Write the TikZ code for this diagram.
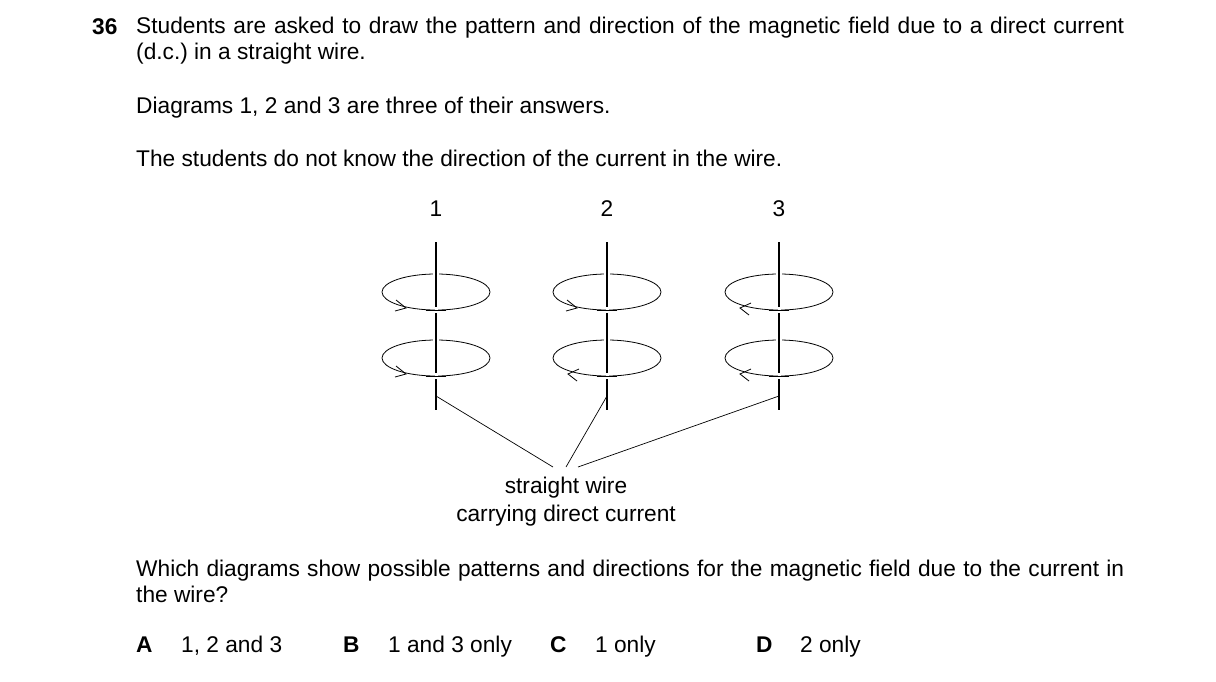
\documentclass[tikz,border=0pt]{standalone}
\usepackage{fontspec}
\setmainfont{Liberation Sans}
\begin{document}
\begin{tikzpicture}[x=1pt,y=-1pt,
  txt/.style={inner sep=0pt,font=\fontsize{22.7}{26}\selectfont},
  bld/.style={txt,font=\fontsize{22.7}{26}\selectfont\bfseries},
  par/.style={txt,text width=988pt,align=justify,anchor=north west},
  wire/.style={line width=1.6pt},
  loop/.style={line width=0.8pt},
  lead/.style={line width=0.7pt},
  hd/.style={line width=0.8pt}]
\useasboundingbox (0,0) rectangle (1216,681);
\node[bld,anchor=base west] (q) at (92,34) {36};
\node[par] (p1) at (136,17) {Students are asked to draw the pattern and direction of the magnetic field due to a direct current (d.c.)\ in a straight wire.};
\node[txt,anchor=base west] (p2) at (136,113) {Diagrams 1, 2 and 3 are three of their answers.};
\node[txt,anchor=base west] (p3) at (136,166) {The students do not know the direction of the current in the wire.};
\foreach \n/\x in {1/436,2/607,3/779}{
  \node[txt] (l\n) at (\x,209) {\n};
  \foreach \y in {292,358}{
    \draw[loop] (\x,\y) ellipse[x radius=54,y radius=18];
    \draw[white,line width=6pt] (\x,\y-21) -- (\x,\y-15);
  }
  \draw[wire] (\x,242) -- (\x,410);
  \foreach \y in {292,358}{
    \draw[white,line width=3pt] (\x,\y+15) -- (\x,\y+21);
    \draw[loop] (\x-10,\y+18) -- (\x+10,\y+18);
  }
  \coordinate (w\n) at (\x,396);
}
\newcommand\rhead[2]{\draw[hd] (#1-10,#2-8) -- (#1,#2) -- (#1-11,#2+3);}
\newcommand\lhead[2]{\draw[hd] (#1+11,#2-5) -- (#1,#2) -- (#1+9,#2+7);}
\rhead{406}{308}\rhead{406}{374}
\rhead{577}{308}\lhead{568}{374}
\lhead{740}{308}\lhead{740}{374}
\coordinate (e1) at (553,467);
\coordinate (e2) at (566,467);
\coordinate (e3) at (578,467);
\draw[lead] (w1) -- (e1);
\draw[lead] (w2) -- (e2);
\draw[lead] (w3) -- (e3);
\node[txt,anchor=base] (sw) at (566,493) {straight wire};
\node[txt,anchor=base] (cd) at (566,521) {carrying direct current};
\node[par] (p4) at (136,560) {Which diagrams show possible patterns and directions for the magnetic field due to the current in the wire?};
\node[bld,anchor=base west] (A) at (136,652) {A};
\node[txt,anchor=base west] (a) at (181,652) {1, 2 and 3};
\node[bld,anchor=base west] (B) at (343,652) {B};
\node[txt,anchor=base west] (b) at (388,652) {1 and 3 only};
\node[bld,anchor=base west] (C) at (550,652) {C};
\node[txt,anchor=base west] (c) at (595,652) {1 only};
\node[bld,anchor=base west] (D) at (756,652) {D};
\node[txt,anchor=base west] (d) at (800,652) {2 only};
\end{tikzpicture}
\end{document}
